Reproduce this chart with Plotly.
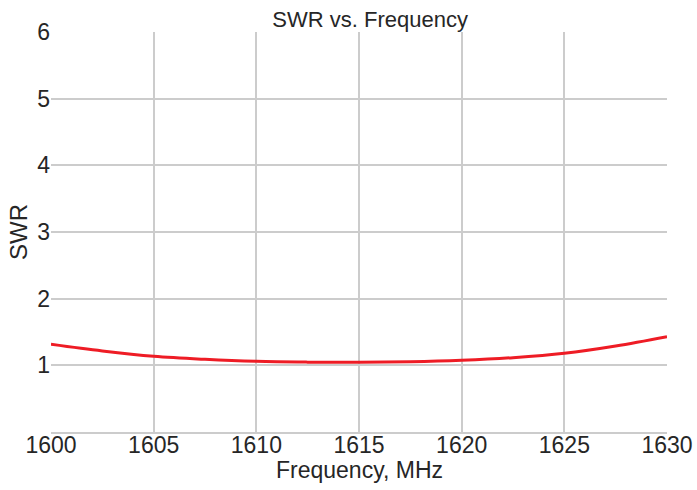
import plotly.graph_objects as go

freq_mhz = [1600, 1602.5, 1605, 1607.5, 1610, 1612.5, 1615, 1617.5, 1620, 1622.5, 1625, 1627.5, 1630]
swr = [1.315, 1.215, 1.135, 1.09, 1.06, 1.048, 1.045, 1.053, 1.075, 1.115, 1.18, 1.29, 1.43]
x_ticks = [1600, 1605, 1610, 1615, 1620, 1625, 1630]
y_ticks = [1, 2, 3, 4, 5, 6]

fig = go.Figure()
fig.add_trace(go.Scatter(x=freq_mhz, y=swr, mode="lines",
                         line=dict(color="#ee1c25", width=3, shape="spline"),
                         showlegend=False))

font = "Liberation Sans, Arial, sans-serif"
fig.update_layout(
    width=697, height=490,
    margin=dict(l=51, r=30, t=32, b=58, autoexpand=False),
    paper_bgcolor="white", plot_bgcolor="white",
    font=dict(family=font, color="#262626", size=23),
    title=dict(text="SWR vs. Frequency", x=0.518, xanchor="center",
               xref="paper", y=1 - 19/490, yanchor="middle", font=dict(size=22)),
    annotations=[
        dict(text="Frequency, MHz", xref="paper", yref="paper", x=0.5, y=-38/400,
             xanchor="center", yanchor="middle", showarrow=False, font=dict(size=23)),
        dict(text="SWR", xref="paper", yref="paper", x=-33/616, y=0.5, textangle=-90,
             xanchor="center", yanchor="middle", showarrow=False, font=dict(size=24)),
    ],
)
fig.update_xaxes(range=[1600, 1630], tickvals=x_ticks, showgrid=True,
                 gridcolor="#cccccc", gridwidth=1.5, zeroline=False,
                 showline=True, linecolor="#cccccc", linewidth=1.5,
                 ticks="", tickfont=dict(size=23), automargin=False,
                 ticklabelstandoff=-8)
fig.update_yaxes(range=[0, 6], tickvals=y_ticks, showgrid=True,
                 gridcolor="#cccccc", gridwidth=1.5, zeroline=False,
                 ticks="", tickfont=dict(size=23), automargin=False)

fig.write_html("out.html", config={"displayModeBar": False},
               post_script="document.body.style.margin='0';")
